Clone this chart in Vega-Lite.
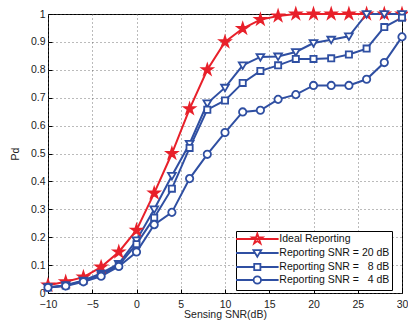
{
  "$schema": "https://vega.github.io/schema/vega-lite/v6.json",
  "autosize": "none",
  "width": 354,
  "height": 279,
  "padding": {"left": 48, "top": 14, "right": 6, "bottom": 28},
  "background": "white",
  "config": {
    "font": "Liberation Sans",
    "view": {"stroke": "black", "strokeWidth": 1},
    "axis": {
      "labelFont": "Liberation Sans",
      "titleFont": "Liberation Sans",
      "labelFontSize": 10.5,
      "titleFontSize": 10.5,
      "titleFontWeight": "normal",
      "labelColor": "#222",
      "titleColor": "#222",
      "grid": true,
      "gridDash": [1, 3],
      "gridColor": "#555",
      "gridOpacity": 0.8,
      "domain": false,
      "tickSize": -4,
      "tickColor": "#000",
      "labelPadding": 10,
      "labelFlush": false
    }
  },
  "data": {
    "values": [
      {"snr": -10, "pd": 0.028, "series": "Ideal Reporting"},
      {"snr": -8, "pd": 0.04, "series": "Ideal Reporting"},
      {"snr": -6, "pd": 0.057, "series": "Ideal Reporting"},
      {"snr": -4, "pd": 0.093, "series": "Ideal Reporting"},
      {"snr": -2, "pd": 0.147, "series": "Ideal Reporting"},
      {"snr": 0, "pd": 0.225, "series": "Ideal Reporting"},
      {"snr": 2, "pd": 0.358, "series": "Ideal Reporting"},
      {"snr": 4, "pd": 0.5, "series": "Ideal Reporting"},
      {"snr": 6, "pd": 0.66, "series": "Ideal Reporting"},
      {"snr": 8, "pd": 0.8, "series": "Ideal Reporting"},
      {"snr": 10, "pd": 0.9, "series": "Ideal Reporting"},
      {"snr": 12, "pd": 0.948, "series": "Ideal Reporting"},
      {"snr": 14, "pd": 0.98, "series": "Ideal Reporting"},
      {"snr": 16, "pd": 0.993, "series": "Ideal Reporting"},
      {"snr": 18, "pd": 1.0, "series": "Ideal Reporting"},
      {"snr": 20, "pd": 1.0, "series": "Ideal Reporting"},
      {"snr": 22, "pd": 1.0, "series": "Ideal Reporting"},
      {"snr": 24, "pd": 1.0, "series": "Ideal Reporting"},
      {"snr": 26, "pd": 1.0, "series": "Ideal Reporting"},
      {"snr": 28, "pd": 1.0, "series": "Ideal Reporting"},
      {"snr": 30, "pd": 1.0, "series": "Ideal Reporting"},

      {"snr": -10, "pd": 0.02, "series": "Reporting SNR = 20 dB"},
      {"snr": -8, "pd": 0.028, "series": "Reporting SNR = 20 dB"},
      {"snr": -6, "pd": 0.045, "series": "Reporting SNR = 20 dB"},
      {"snr": -4, "pd": 0.07, "series": "Reporting SNR = 20 dB"},
      {"snr": -2, "pd": 0.105, "series": "Reporting SNR = 20 dB"},
      {"snr": 0, "pd": 0.189, "series": "Reporting SNR = 20 dB"},
      {"snr": 2, "pd": 0.3, "series": "Reporting SNR = 20 dB"},
      {"snr": 4, "pd": 0.42, "series": "Reporting SNR = 20 dB"},
      {"snr": 6, "pd": 0.535, "series": "Reporting SNR = 20 dB"},
      {"snr": 8, "pd": 0.68, "series": "Reporting SNR = 20 dB"},
      {"snr": 10, "pd": 0.736, "series": "Reporting SNR = 20 dB"},
      {"snr": 12, "pd": 0.816, "series": "Reporting SNR = 20 dB"},
      {"snr": 14, "pd": 0.846, "series": "Reporting SNR = 20 dB"},
      {"snr": 16, "pd": 0.848, "series": "Reporting SNR = 20 dB"},
      {"snr": 18, "pd": 0.864, "series": "Reporting SNR = 20 dB"},
      {"snr": 20, "pd": 0.896, "series": "Reporting SNR = 20 dB"},
      {"snr": 22, "pd": 0.908, "series": "Reporting SNR = 20 dB"},
      {"snr": 24, "pd": 0.92, "series": "Reporting SNR = 20 dB"},
      {"snr": 26, "pd": 1.0, "series": "Reporting SNR = 20 dB"},
      {"snr": 28, "pd": 1.0, "series": "Reporting SNR = 20 dB"},
      {"snr": 30, "pd": 1.0, "series": "Reporting SNR = 20 dB"},

      {"snr": -10, "pd": 0.02, "series": "Reporting SNR = \u20078 dB"},
      {"snr": -8, "pd": 0.027, "series": "Reporting SNR = \u20078 dB"},
      {"snr": -6, "pd": 0.043, "series": "Reporting SNR = \u20078 dB"},
      {"snr": -4, "pd": 0.065, "series": "Reporting SNR = \u20078 dB"},
      {"snr": -2, "pd": 0.1, "series": "Reporting SNR = \u20078 dB"},
      {"snr": 0, "pd": 0.175, "series": "Reporting SNR = \u20078 dB"},
      {"snr": 2, "pd": 0.27, "series": "Reporting SNR = \u20078 dB"},
      {"snr": 4, "pd": 0.374, "series": "Reporting SNR = \u20078 dB"},
      {"snr": 6, "pd": 0.52, "series": "Reporting SNR = \u20078 dB"},
      {"snr": 8, "pd": 0.657, "series": "Reporting SNR = \u20078 dB"},
      {"snr": 10, "pd": 0.69, "series": "Reporting SNR = \u20078 dB"},
      {"snr": 12, "pd": 0.753, "series": "Reporting SNR = \u20078 dB"},
      {"snr": 14, "pd": 0.796, "series": "Reporting SNR = \u20078 dB"},
      {"snr": 16, "pd": 0.816, "series": "Reporting SNR = \u20078 dB"},
      {"snr": 18, "pd": 0.839, "series": "Reporting SNR = \u20078 dB"},
      {"snr": 20, "pd": 0.839, "series": "Reporting SNR = \u20078 dB"},
      {"snr": 22, "pd": 0.841, "series": "Reporting SNR = \u20078 dB"},
      {"snr": 24, "pd": 0.855, "series": "Reporting SNR = \u20078 dB"},
      {"snr": 26, "pd": 0.876, "series": "Reporting SNR = \u20078 dB"},
      {"snr": 28, "pd": 0.953, "series": "Reporting SNR = \u20078 dB"},
      {"snr": 30, "pd": 0.987, "series": "Reporting SNR = \u20078 dB"},

      {"snr": -10, "pd": 0.02, "series": "Reporting SNR = \u20074 dB"},
      {"snr": -8, "pd": 0.025, "series": "Reporting SNR = \u20074 dB"},
      {"snr": -6, "pd": 0.04, "series": "Reporting SNR = \u20074 dB"},
      {"snr": -4, "pd": 0.06, "series": "Reporting SNR = \u20074 dB"},
      {"snr": -2, "pd": 0.095, "series": "Reporting SNR = \u20074 dB"},
      {"snr": 0, "pd": 0.147, "series": "Reporting SNR = \u20074 dB"},
      {"snr": 2, "pd": 0.245, "series": "Reporting SNR = \u20074 dB"},
      {"snr": 4, "pd": 0.289, "series": "Reporting SNR = \u20074 dB"},
      {"snr": 6, "pd": 0.41, "series": "Reporting SNR = \u20074 dB"},
      {"snr": 8, "pd": 0.497, "series": "Reporting SNR = \u20074 dB"},
      {"snr": 10, "pd": 0.575, "series": "Reporting SNR = \u20074 dB"},
      {"snr": 12, "pd": 0.649, "series": "Reporting SNR = \u20074 dB"},
      {"snr": 14, "pd": 0.655, "series": "Reporting SNR = \u20074 dB"},
      {"snr": 16, "pd": 0.694, "series": "Reporting SNR = \u20074 dB"},
      {"snr": 18, "pd": 0.711, "series": "Reporting SNR = \u20074 dB"},
      {"snr": 20, "pd": 0.744, "series": "Reporting SNR = \u20074 dB"},
      {"snr": 22, "pd": 0.744, "series": "Reporting SNR = \u20074 dB"},
      {"snr": 24, "pd": 0.744, "series": "Reporting SNR = \u20074 dB"},
      {"snr": 26, "pd": 0.766, "series": "Reporting SNR = \u20074 dB"},
      {"snr": 28, "pd": 0.826, "series": "Reporting SNR = \u20074 dB"},
      {"snr": 30, "pd": 0.918, "series": "Reporting SNR = \u20074 dB"}
    ]
  },
  "encoding": {
    "x": {
      "field": "snr", "type": "quantitative",
      "scale": {"domain": [-10, 30], "nice": false, "zero": false},
      "axis": {"values": [-10, -5, 0, 5, 10, 15, 20, 25, 30], "title": "Sensing SNR(dB)", "titlePadding": 0}
    },
    "y": {
      "field": "pd", "type": "quantitative",
      "scale": {"domain": [0, 1], "nice": false},
      "axis": {"values": [0, 0.1, 0.2, 0.3, 0.4, 0.5, 0.6, 0.7, 0.8, 0.9, 1], "format": ".1~f", "title": "Pd", "titlePadding": 10, "labelPadding": 7}
    }
  },
  "layer": [
    {
      "mark": {"type": "line", "strokeWidth": 2},
      "encoding": {
        "color": {
          "field": "series", "type": "nominal", "legend": null,
          "scale": {
            "domain": ["Ideal Reporting", "Reporting SNR = 20 dB", "Reporting SNR = \u20078 dB", "Reporting SNR = \u20074 dB"],
            "range": ["#E8202A", "#2F4FA2", "#2F4FA2", "#2F4FA2"]
          }
        }
      }
    },
    {
      "mark": {"type": "point", "filled": true, "strokeWidth": 1.8, "size": 60, "opacity": 1},
      "encoding": {
        "stroke": {
          "field": "series", "type": "nominal", "legend": null,
          "scale": {
            "domain": ["Ideal Reporting", "Reporting SNR = 20 dB", "Reporting SNR = \u20078 dB", "Reporting SNR = \u20074 dB"],
            "range": ["#E8202A", "#2F4FA2", "#2F4FA2", "#2F4FA2"]
          }
        },
        "fill": {
          "field": "series", "type": "nominal", "legend": null,
          "scale": {
            "domain": ["Ideal Reporting", "Reporting SNR = 20 dB", "Reporting SNR = \u20078 dB", "Reporting SNR = \u20074 dB"],
            "range": ["#E8202A", "white", "white", "white"]
          }
        },
        "shape": {
          "field": "series", "type": "nominal", "legend": null,
          "scale": {
            "domain": ["Ideal Reporting", "Reporting SNR = 20 dB", "Reporting SNR = \u20078 dB", "Reporting SNR = \u20074 dB"],
            "range": [
              "M0,-1.4L0.31,-0.43L1.33,-0.43L0.51,0.17L0.82,1.13L0,0.53L-0.82,1.13L-0.51,0.17L-1.33,-0.43L-0.31,-0.43Z",
              "M-1,-0.75L1,-0.75L0,0.95Z",
              "M-0.8,-0.8L0.8,-0.8L0.8,0.8L-0.8,0.8Z",
              "M-0.95,0A0.95,0.95,0,1,1,0.95,0A0.95,0.95,0,1,1,-0.95,0Z"
            ]
          }
        }
      }
    },
    {
      "mark": {"type": "point", "filled": true, "strokeWidth": 1.8, "size": 60, "opacity": 0},
      "encoding": {
        "stroke": {
          "field": "series", "type": "nominal", "title": null,
          "scale": {
            "domain": ["Ideal Reporting", "Reporting SNR = 20 dB", "Reporting SNR = \u20078 dB", "Reporting SNR = \u20074 dB"],
            "range": ["#E8202A", "#2F4FA2", "#2F4FA2", "#2F4FA2"]
          },
          "legend": {
            "orient": "none", "legendX": 188, "legendY": 217,
            "fillColor": "white", "strokeColor": "black", "padding": 2,
            "symbolOpacity": 1, "symbolOffset": 13.3, "labelOffset": 16,
            "labelFontSize": 10.5, "labelFont": "Liberation Sans", "labelColor": "#111",
            "rowPadding": -3, "symbolStrokeWidth": 1.8, "labelLimit": 300
          }
        },
        "fill": {
          "field": "series", "type": "nominal", "title": null,
          "scale": {
            "domain": ["Ideal Reporting", "Reporting SNR = 20 dB", "Reporting SNR = \u20078 dB", "Reporting SNR = \u20074 dB"],
            "range": ["#E8202A", "white", "white", "white"]
          }
        },
        "shape": {
          "field": "series", "type": "nominal", "title": null,
          "scale": {
            "domain": ["Ideal Reporting", "Reporting SNR = 20 dB", "Reporting SNR = \u20078 dB", "Reporting SNR = \u20074 dB"],
            "range": [
              "M-4.26,0L4.26,0M0,-1.08L0.24,-0.33L1.03,-0.33L0.4,0.13L0.64,0.88L0,0.41L-0.64,0.88L-0.4,0.13L-1.03,-0.33L-0.24,-0.33Z",
              "M-4.26,0L-0.4,0M0.4,0L4.26,0M-0.78,-0.58L0.78,-0.58L0,0.74Z",
              "M-4.26,0L-0.62,0M0.62,0L4.26,0M-0.62,-0.62L0.62,-0.62L0.62,0.62L-0.62,0.62Z",
              "M-4.26,0L-0.74,0M0.74,0L4.26,0M-0.74,0A0.74,0.74,0,1,1,0.74,0A0.74,0.74,0,1,1,-0.74,0Z"
            ]
          }
        }
      }
    }
  ],
  "resolve": {
    "scale": {"stroke": "independent", "fill": "independent", "shape": "independent", "color": "independent"},
    "legend": {"stroke": "independent", "fill": "independent", "shape": "independent"}
  }
}
